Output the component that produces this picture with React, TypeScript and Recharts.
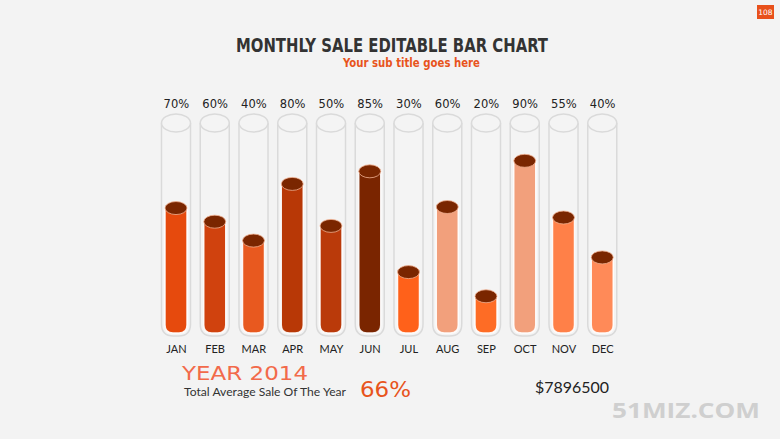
import { Bar, BarChart, XAxis, YAxis } from "recharts";

const MONTHS = ["JAN", "FEB", "MAR", "APR", "MAY", "JUN", "JUL", "AUG", "SEP", "OCT", "NOV", "DEC"];
// valeurs dessinées (hauteur des cylindres, 0-100)
const SALES = [59.5, 53, 44, 71, 51, 77, 29, 60, 17.5, 82, 55, 36];
// étiquettes affichées au-dessus des tubes
const LABELS = ["70%", "60%", "40%", "80%", "50%", "85%", "30%", "60%", "20%", "90%", "55%", "40%"];
const COLORS = [
  "#e64a0d", "#d0420e", "#e8591f", "#b83806", "#ba3a0a", "#7a2500",
  "#ff611a", "#f2a07c", "#fe6c25", "#f2a07c", "#ff8048", "#ff8a58",
];

const data = MONTHS.map((month, i) => ({ month, sales: SALES[i], color: COLORS[i] }));

const BG = "#f3f3f3";

const Tube = (props: any) => {
  const { x, y, width, height } = props;
  const cx = x + width / 2;
  const rx = width / 2 + 3.5;
  const left = cx - rx;
  const right = cx + rx;
  const bottom = y + height + 3;
  const r = 12;
  const d = `M${left},${y} L${left},${bottom - r} Q${left},${bottom} ${left + r},${bottom} L${right - r},${bottom} Q${right},${bottom} ${right},${bottom - r} L${right},${y}`;
  return (
    <g>
      <path d={d} fill="rgba(255,255,255,0.12)" stroke="#dadada" strokeWidth={1.5} />
      <ellipse cx={cx} cy={y} rx={rx} ry={9} fill="#f4f4f4" stroke="#dadada" strokeWidth={1.5} />
    </g>
  );
};

const Cylinder = (props: any) => {
  const { x, y, width, height, payload } = props;
  const cx = x + width / 2;
  const bottom = y + height;
  const r = 8;
  const d = `M${x},${y} L${x},${bottom - r} Q${x},${bottom} ${x + r},${bottom} L${x + width - r},${bottom} Q${x + width},${bottom} ${x + width},${bottom - r} L${x + width},${y} Z`;
  return (
    <g>
      <path d={d} fill={payload.color} stroke="rgba(255,255,255,0.9)" strokeWidth={1.5} />
      <ellipse cx={cx} cy={y} rx={width / 2} ry={6.5} fill="#7a2600" stroke="#f0b090" strokeWidth={0.8} />
    </g>
  );
};

const TopTick = (props: any) => {
  const { x, y, payload, index } = props;
  return (
    <text x={x} y={y} dy={-7} textAnchor="middle" fontFamily="DejaVu Sans, sans-serif" fontSize={11.5} fill="#222">
      {LABELS[index] ?? payload.value}
    </text>
  );
};

const MonthTick = (props: any) => {
  const { x, y, payload } = props;
  return (
    <text x={x} y={y} dy={12} textAnchor="middle" fontFamily="Lato, sans-serif" fontSize={11} fill="#222">
      {payload.value}
    </text>
  );
};

const App = () => {
  return (
    <div style={{ position: "absolute", left: 0, top: 0, width: 780, height: 439, background: BG, overflow: "hidden" }}>
      <BarChart
        width={780}
        height={439}
        data={data}
        margin={{ top: 93, right: 158, bottom: 76, left: 157 }}
        barSize={22}
      >
        <XAxis xAxisId="top" orientation="top" dataKey="month" height={30} axisLine={false} tickLine={false} tick={<TopTick />} interval={0} />
        <XAxis dataKey="month" height={30} axisLine={false} tickLine={false} tick={<MonthTick />} interval={0} />
        <YAxis domain={[0, 100]} hide />
        <Bar dataKey="sales" shape={<Cylinder />} background={<Tube />} isAnimationActive={false} />
      </BarChart>
      <svg width={780} height={439} style={{ position: "absolute", left: 0, top: 0, pointerEvents: "none" }}>
        <text x={392} y={52} textAnchor="middle" fontFamily="Liberation Sans Narrow, DejaVu Sans Condensed, sans-serif" fontWeight="bold" fontSize={20} fill="#333" textLength={312} lengthAdjust="spacingAndGlyphs">
          MONTHLY SALE EDITABLE BAR CHART
        </text>
        <text x={343} y={67} fontFamily="DejaVu Sans Condensed, DejaVu Sans, sans-serif" fontWeight="bold" fontSize={12} fill="#e8541c" textLength={137} lengthAdjust="spacingAndGlyphs">
          Your sub title goes here
        </text>
        <rect x={757} y={5} width={17} height={14} fill="#e8501a" />
        <text x={765.5} y={15} textAnchor="middle" fontFamily="DejaVu Sans, sans-serif" fontSize={7.5} fill="#fff">108</text>
        <text x={182} y={380} fontFamily="DejaVu Sans, sans-serif" fontSize={19} fill="#f26a4a" textLength={126} lengthAdjust="spacingAndGlyphs">
          YEAR 2014
        </text>
        <text x={184} y={396} fontFamily="Lato, sans-serif" fontSize={12} fill="#333" textLength={162} lengthAdjust="spacingAndGlyphs">
          Total Average Sale Of The Year
        </text>
        <text x={360} y={397} fontFamily="DejaVu Sans, sans-serif" fontSize={22} fill="#e8541c" textLength={51} lengthAdjust="spacingAndGlyphs">
          66%
        </text>
        <text x={535} y={393} fontFamily="Lato, sans-serif" fontSize={16} fill="#222" textLength={74} lengthAdjust="spacingAndGlyphs">
          $7896500
        </text>
        <text x={612} y={418} fontFamily="Open Sans, sans-serif" fontWeight="bold" fontSize={22} fill="#cfcfcf" textLength={148} lengthAdjust="spacingAndGlyphs">
          51MIZ.COM
        </text>
      </svg>
    </div>
  );
};

export default App;
